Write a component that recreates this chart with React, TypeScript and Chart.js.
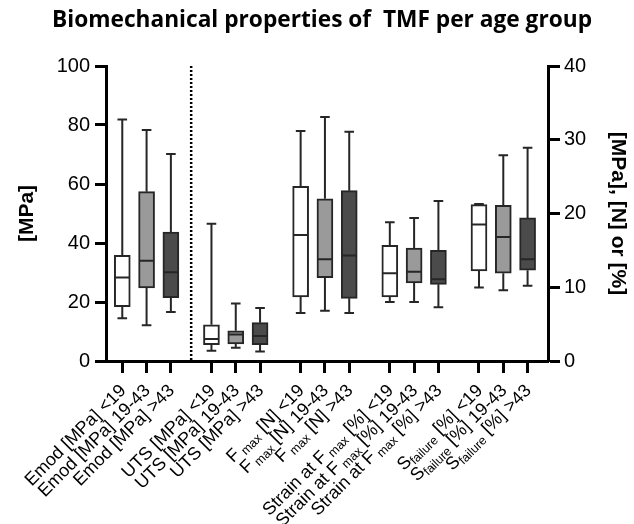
import React, { useEffect, useRef } from 'react';
import { Chart, registerables } from 'chart.js';

Chart.register(...registerables);

const TITLE = 'Biomechanical properties of  TMF per age group';
const LEFT_AXIS_TITLE = '[MPa]';
const RIGHT_AXIS_TITLE = '[MPa], [N] or [%]';

const ageGroups = ['<19', '19-43', '>43'];
// label pieces: normal text, subscript text, normal text (age group appended)
const paramPre = ['Emod', 'UTS', 'F', 'Strain at F', 'S'];
const paramSub = ['', '', ' max', ' max', 'failure'];
const paramPost = [' [MPa] ', ' [MPa] ', ' [N] ', ' [%] ', ' [%] '];
const paramAxis = ['y', 'y1', 'y1', 'y1', 'y1'];

// Box statistics, order: parameter x age group (Emod on left axis, others on right axis)
const whiskerMin = [14.5, 12.1, 16.6, 1.4, 1.8, 1.3, 6.5, 6.8, 6.5, 8.0, 8.0, 7.3, 9.95, 9.6, 10.2];
const q1 = [18.4, 24.8, 21.5, 2.2, 2.3, 2.2, 8.7, 11.3, 8.5, 8.7, 10.6, 10.4, 12.2, 11.9, 12.3];
const median = [28.3, 34.0, 30.1, 3.0, 3.6, 3.4, 17.1, 13.8, 14.3, 11.9, 12.1, 11.1, 18.5, 16.8, 13.8];
const q3 = [35.8, 57.4, 43.7, 4.9, 4.1, 5.2, 23.7, 22.0, 23.1, 15.7, 15.3, 15.0, 21.2, 21.1, 19.4];
const whiskerMax = [81.9, 78.3, 70.2, 18.6, 7.8, 7.2, 31.2, 33.1, 31.1, 18.8, 19.4, 21.7, 21.3, 27.9, 28.9];

const leftMin = 0, leftMax = 100, leftStep = 20;
const rightMin = 0, rightMax = 40, rightStep = 10;

const boxFills = ['#ffffff', '#9a9a9a', '#4b4b4b'];
const LINE = '#262626';
const GROUP_GAP = 0.67;

const FONT = "'Liberation Sans', Arial, sans-serif";

const posOf = (g: number, a: number) => g * (3 + GROUP_GAP) + a;

export default function App() {
  const ref = useRef<HTMLCanvasElement | null>(null);

  useEffect(() => {
    const canvas = ref.current;
    if (!canvas) return;

    const positions: number[] = [];
    const labelIdx: number[] = [];
    paramPre.forEach((_, g) => ageGroups.forEach((_, a) => { positions.push(posOf(g, a)); labelIdx.push(g * 3 + a); }));

    const makeDataset = (axis: string) => {
      const idx: number[] = [];
      paramPre.forEach((_, g) => { if (paramAxis[g] === axis) ageGroups.forEach((_, a) => idx.push(g * 3 + a)); });
      return {
        yAxisID: axis,
        boxIndex: idx,
        data: idx.map((k) => ({ x: positions[k], y: [q1[k], q3[k]] })),
        backgroundColor: idx.map((k) => boxFills[k % 3]),
        borderColor: LINE,
        borderWidth: 2,
        borderSkipped: false,
        barThickness: 16,
        grouped: false,
      } as any;
    };

    const boxPlugin = {
      id: 'boxWhiskers',
      afterDatasetsDraw(chart: any) {
        const ctx = chart.ctx;
        ctx.save();
        ctx.strokeStyle = LINE;
        ctx.lineWidth = 2;
        chart.data.datasets.forEach((ds: any, di: number) => {
          const meta = chart.getDatasetMeta(di);
          const ys = chart.scales[ds.yAxisID];
          meta.data.forEach((bar: any, j: number) => {
            const k = ds.boxIndex[j];
            const x = bar.x;
            const w = bar.width;
            const pMin = ys.getPixelForValue(whiskerMin[k]);
            const pQ1 = ys.getPixelForValue(q1[k]);
            const pMed = ys.getPixelForValue(median[k]);
            const pQ3 = ys.getPixelForValue(q3[k]);
            const pMax = ys.getPixelForValue(whiskerMax[k]);
            const cap = w * 0.3;
            ctx.beginPath();
            ctx.moveTo(x, pQ3); ctx.lineTo(x, pMax);
            ctx.moveTo(x - cap, pMax); ctx.lineTo(x + cap, pMax);
            ctx.moveTo(x, pQ1); ctx.lineTo(x, pMin);
            ctx.moveTo(x - cap, pMin); ctx.lineTo(x + cap, pMin);
            ctx.moveTo(x - w / 2 + 1, pMed); ctx.lineTo(x + w / 2 - 1, pMed);
            ctx.stroke();
          });
        });
        ctx.restore();
      },
      afterDraw(chart: any) {
        const ctx = chart.ctx;
        const xs = chart.scales.x;
        const area = chart.chartArea;
        ctx.save();
        // dotted separator
        const sepX = xs.getPixelForValue((posOf(0, 2) + posOf(1, 0)) / 2);
        ctx.strokeStyle = '#000';
        ctx.lineWidth = 2.5;
        ctx.setLineDash([2, 2]);
        ctx.beginPath();
        ctx.moveTo(sepX, area.top);
        ctx.lineTo(sepX, area.bottom + 2);
        ctx.stroke();
        ctx.setLineDash([]);

        // title
        ctx.fillStyle = '#000';
        ctx.font = "bold 22.7px 'Open Sans', Lato, sans-serif";
        ctx.textAlign = 'center';
        ctx.textBaseline = 'alphabetic';
        ctx.fillText(TITLE, 322, 27);

        // x labels
        const mainFont = `18px ${FONT}`;
        const subFont = `12.5px ${FONT}`;
        positions.forEach((p, i) => {
          const k = labelIdx[i];
          const g = Math.floor(k / 3);
          const a = k % 3;
          const parts = [
            { t: paramPre[g], f: mainFont, dy: 0 },
            { t: paramSub[g], f: subFont, dy: 5 },
            { t: paramPost[g] + ageGroups[a], f: mainFont, dy: 0 },
          ].filter((s) => s.t.length > 0);
          let total = 0;
          parts.forEach((s) => { ctx.font = s.f; total += ctx.measureText(s.t).width; });
          const px = xs.getPixelForValue(p);
          ctx.save();
          ctx.translate(px + 1, xs.top + 27);
          ctx.rotate(-Math.PI / 4);
          ctx.textAlign = 'left';
          ctx.textBaseline = 'middle';
          let cx = -total;
          parts.forEach((s) => {
            ctx.font = s.f;
            ctx.fillText(s.t, cx, s.dy);
            cx += ctx.measureText(s.t).width;
          });
          ctx.restore();
        });
        ctx.restore();
      },
    };

    const axisGrid = (len: number) => ({
      drawOnChartArea: false,
      drawTicks: true,
      tickLength: len,
      tickWidth: 3,
      tickColor: '#000',
      offset: false,
    });
    const axisBorder = { display: true, width: 3, color: '#000' };

    const chart = new Chart(canvas, {
      type: 'bar',
      data: { datasets: [makeDataset('y'), makeDataset('y1')] },
      options: {
        animation: false,
        responsive: false,
        devicePixelRatio: 1,
        layout: { padding: { top: 66, left: 0, right: 0, bottom: 0 } },
        plugins: {
          legend: { display: false },
          tooltip: { enabled: false },
          title: { display: false },
        },
        scales: {
          x: {
            type: 'linear',
            offset: false,
            min: -0.67,
            max: 17.52,
            afterBuildTicks: (s: any) => { s.ticks = positions.map((v) => ({ value: v })); },
            ticks: { display: false, autoSkip: false },
            grid: axisGrid(12),
            border: axisBorder,
            afterFit: (s: any) => { s.height = 163; },
          },
          y: {
            position: 'left',
            min: leftMin,
            max: leftMax,
            ticks: { stepSize: leftStep, font: { family: FONT, size: 20 }, color: '#000', padding: 5 },
            grid: axisGrid(11),
            border: axisBorder,
            title: {
              display: true,
              text: LEFT_AXIS_TITLE,
              color: '#000',
              font: { family: FONT, size: 21, weight: 'bold' },
              padding: { top: 15, bottom: 0 },
            },
            afterFit: (s: any) => { s.width = 106; },
          },
          y1: {
            position: 'right',
            min: rightMin,
            max: rightMax,
            ticks: { stepSize: rightStep, font: { family: FONT, size: 20 }, color: '#000', padding: 4 },
            grid: axisGrid(12),
            border: axisBorder,
            title: {
              display: true,
              text: RIGHT_AXIS_TITLE,
              color: '#000',
              font: { family: FONT, size: 21, weight: 'bold' },
              padding: { top: 4, bottom: 0 },
            },
            afterFit: (s: any) => { s.width = 86; },
          },
        },
      } as any,
      plugins: [boxPlugin],
    });

    return () => chart.destroy();
  }, []);

  return (
    <div style={{ position: 'absolute', left: 0, top: 0, width: 634, height: 524, background: '#fff' }}>
      <canvas ref={ref} width={634} height={524} style={{ display: 'block', width: 634, height: 524 }} />
    </div>
  );
}
